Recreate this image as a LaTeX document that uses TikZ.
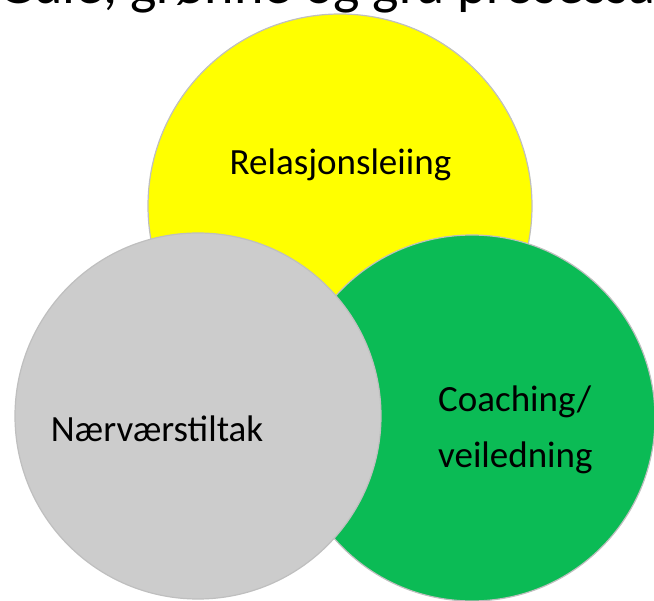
\documentclass[tikz,border=0pt]{standalone}
\usepackage{fontspec}
\setmainfont{Carlito}
\usetikzlibrary{positioning}
\definecolor{prosgul}{HTML}{FFFF00}
\definecolor{prosgron}{HTML}{0BBB55}
\definecolor{prosgraa}{HTML}{CCCCCC}

\begin{document}
\begin{tikzpicture}[
      x=1pt, y=-1pt,
      every node/.style={font=\fontsize{37}{56}\selectfont},
      sirkel/.style={circle, draw=black!25, line width=1.2pt, fill=#1,
                     minimum size=366pt, inner sep=0pt},
      merke/.style={text=black, inner sep=0pt, anchor=base},
    ]
    \useasboundingbox (0,0) rectangle (654,601);
    \clip (0,0) rectangle (654,601);

    \node[font=\fontsize{56}{66}\selectfont, anchor=base west, inner sep=0pt]
      (tittel) at (-2,3.5) {Gule, grønne og grå prosessar};

    \node[sirkel=prosgul, minimum size=384pt] (gul)  at (340,206) {};
    \node[sirkel=prosgron]                    (gron) at (472,418) {};
    \node[sirkel=prosgraa]                    (graa) at (198,416) {};

    \node[merke] (relasjon) at (340.5,175) {Relasjonsleiing};
    \node[merke] (naervaer) at (157,442)   {Nærværstiltak};
    \node[merke, align=left, anchor=base west] (coaching) at (438,468)
      {Coaching/\\veiledning};
  \end{tikzpicture}
\end{document}
